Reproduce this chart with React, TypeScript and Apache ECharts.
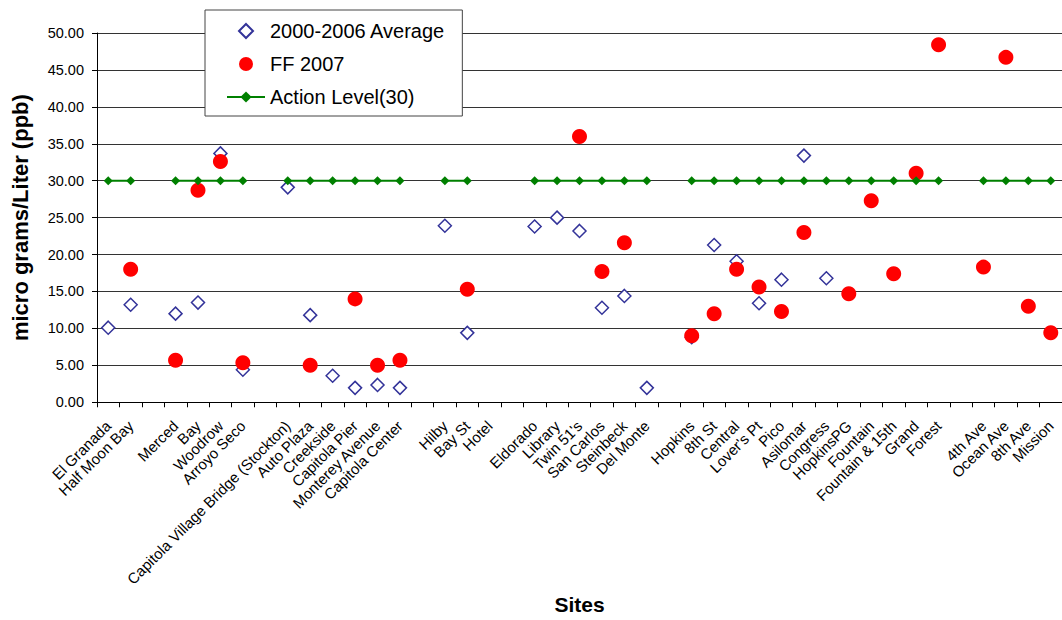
import React, { useEffect, useRef } from "react";
import * as echarts from "echarts";

const categories: string[] = [
  "El Granada", "Half Moon Bay", " ", "Merced", "Bay", "Woodrow", "Arroyo Seco", "  ",
  "Capitola Village Bridge (Stockton)", "Auto Plaza", "Creekside", "Capitola Pier",
  "Monterey Avenue", "Capitola Center", "   ", "Hilby", "Bay St", "Hotel", "    ",
  "Eldorado", "Library", "Twin 51's", "San Carlos", "Steinbeck", "Del Monte", "     ",
  "Hopkins", "8th St", "Central", "Lover's Pt", "Pico", "Asilomar", "Congress",
  "HopkinsPG", "Fountain", "Fountain & 15th", "Grand", "Forest", "      ",
  "4th Ave", "Ocean Ave", "8th Ave", "Mission",
];

const avg2000_2006: (number | null)[] = [
  10.1, 13.2, null, 12.0, 13.5, 33.7, 4.4, null,
  29.1, 11.8, 3.6, 1.95, 2.35, 1.95, null,
  23.9, 9.4, null, null,
  23.8, 25.0, 23.2, 12.8, 14.4, 1.95, null,
  8.8, 21.3, 19.1, 13.4, 16.6, 33.4, 16.8,
  null, null, null, null, null, null,
  null, null, null, null,
];

const ff2007: (number | null)[] = [
  null, 18.0, null, 5.7, 28.7, 32.6, 5.35, null,
  null, 5.0, null, 14.0, 5.0, 5.7, null,
  null, 15.3, null, null,
  null, null, 36.0, 17.7, 21.6, null, null,
  9.0, 12.0, 18.0, 15.6, 12.3, 23.0, null,
  14.7, 27.3, 17.4, 31.0, 48.4, null,
  18.3, 46.7, 13.0, 9.4,
];

const actionLevel: (number | null)[] = [
  30, 30, null, 30, 30, 30, 30, null,
  30, 30, 30, 30, 30, 30, null,
  30, 30, null, null,
  30, 30, 30, 30, 30, 30, null,
  30, 30, 30, 30, 30, 30, 30,
  30, 30, 30, 30, 30, null,
  30, 30, 30, 30,
];

const seriesNames = ["2000-2006 Average", "FF 2007", "Action Level(30)"];
const yAxisTitle = "micro grams/Liter (ppb)";
const xAxisTitle = "Sites";

const FONT = "'Liberation Sans', Arial, sans-serif";
const DIAMOND_ICON = "path://M10,0L20,10L10,20L0,10Z";
const CIRCLE_ICON = "path://M20,10A10,10,0,1,1,0,10A10,10,0,1,1,20,10Z";

export default function App() {
  const ref = useRef<HTMLDivElement>(null);

  useEffect(() => {
    if (!ref.current) return;
    const chart = echarts.init(ref.current, undefined, { renderer: "svg" });
    chart.setOption({
      animation: false,
      backgroundColor: "#fff",
      textStyle: { fontFamily: FONT },
      grid: { left: 97, top: 33, width: 967.5, height: 377, containLabel: false },
      legend: {
        orient: "vertical",
        left: 205,
        top: 10,
        padding: [11, 17, 9, 21],
        itemGap: 13,
        itemWidth: 38,
        itemHeight: 14,
        symbolKeepAspect: true,
        backgroundColor: "#fff",
        borderColor: "#444",
        borderWidth: 1,
        textStyle: { fontFamily: FONT, fontSize: 20, color: "#000" },
        data: [
          { name: seriesNames[0], icon: DIAMOND_ICON },
          { name: seriesNames[1], icon: CIRCLE_ICON },
          { name: seriesNames[2] },
        ],
      },
      xAxis: {
        type: "category",
        data: categories,
        name: xAxisTitle,
        nameLocation: "middle",
        nameGap: 190,
        nameTextStyle: { fontFamily: FONT, fontSize: 21, fontWeight: "bold", color: "#000" },
        axisLine: { show: true, lineStyle: { color: "#000", width: 1 } },
        axisTick: { show: true, length: 5, lineStyle: { color: "#000" } },
        axisLabel: {
          interval: 0,
          rotate: 45,
          margin: 21,
          fontFamily: FONT,
          fontSize: 15,
          color: "#000",
        },
        splitLine: { show: false },
      },
      yAxis: {
        type: "value",
        min: 0,
        max: 50,
        interval: 5,
        name: yAxisTitle,
        nameLocation: "middle",
        nameGap: 66,
        nameTextStyle: { fontFamily: FONT, fontSize: 22, fontWeight: "bold", color: "#000" },
        axisLine: { show: true, lineStyle: { color: "#000", width: 1 } },
        axisTick: { show: true, length: 5, lineStyle: { color: "#000" } },
        axisLabel: {
          margin: 13,
          fontFamily: FONT,
          fontSize: 14.5,
          color: "#000",
          formatter: (v: number) => v.toFixed(2),
        },
        splitLine: { show: true, lineStyle: { color: "#333", width: 1 } },
      },
      series: [
        {
          name: seriesNames[0],
          type: "scatter",
          data: avg2000_2006,
          symbol: "diamond",
          symbolSize: 13,
          itemStyle: { color: "#fff", borderColor: "#333399", borderWidth: 1.5, opacity: 1 },
          z: 2,
        },
        {
          name: seriesNames[1],
          type: "scatter",
          data: ff2007,
          symbol: "circle",
          symbolSize: 15,
          itemStyle: { color: "#ff0000", opacity: 1 },
          z: 3,
        },
        {
          name: seriesNames[2],
          type: "line",
          data: actionLevel,
          connectNulls: false,
          symbol: "diamond",
          symbolSize: 9,
          showSymbol: true,
          lineStyle: { color: "#008000", width: 2 },
          itemStyle: { color: "#008000" },
          z: 4,
        },
      ],
    });
    return () => chart.dispose();
  }, []);

  return (
    <div
      ref={ref}
      style={{ position: "absolute", left: 0, top: 0, width: 1062, height: 620 }}
    />
  );
}
